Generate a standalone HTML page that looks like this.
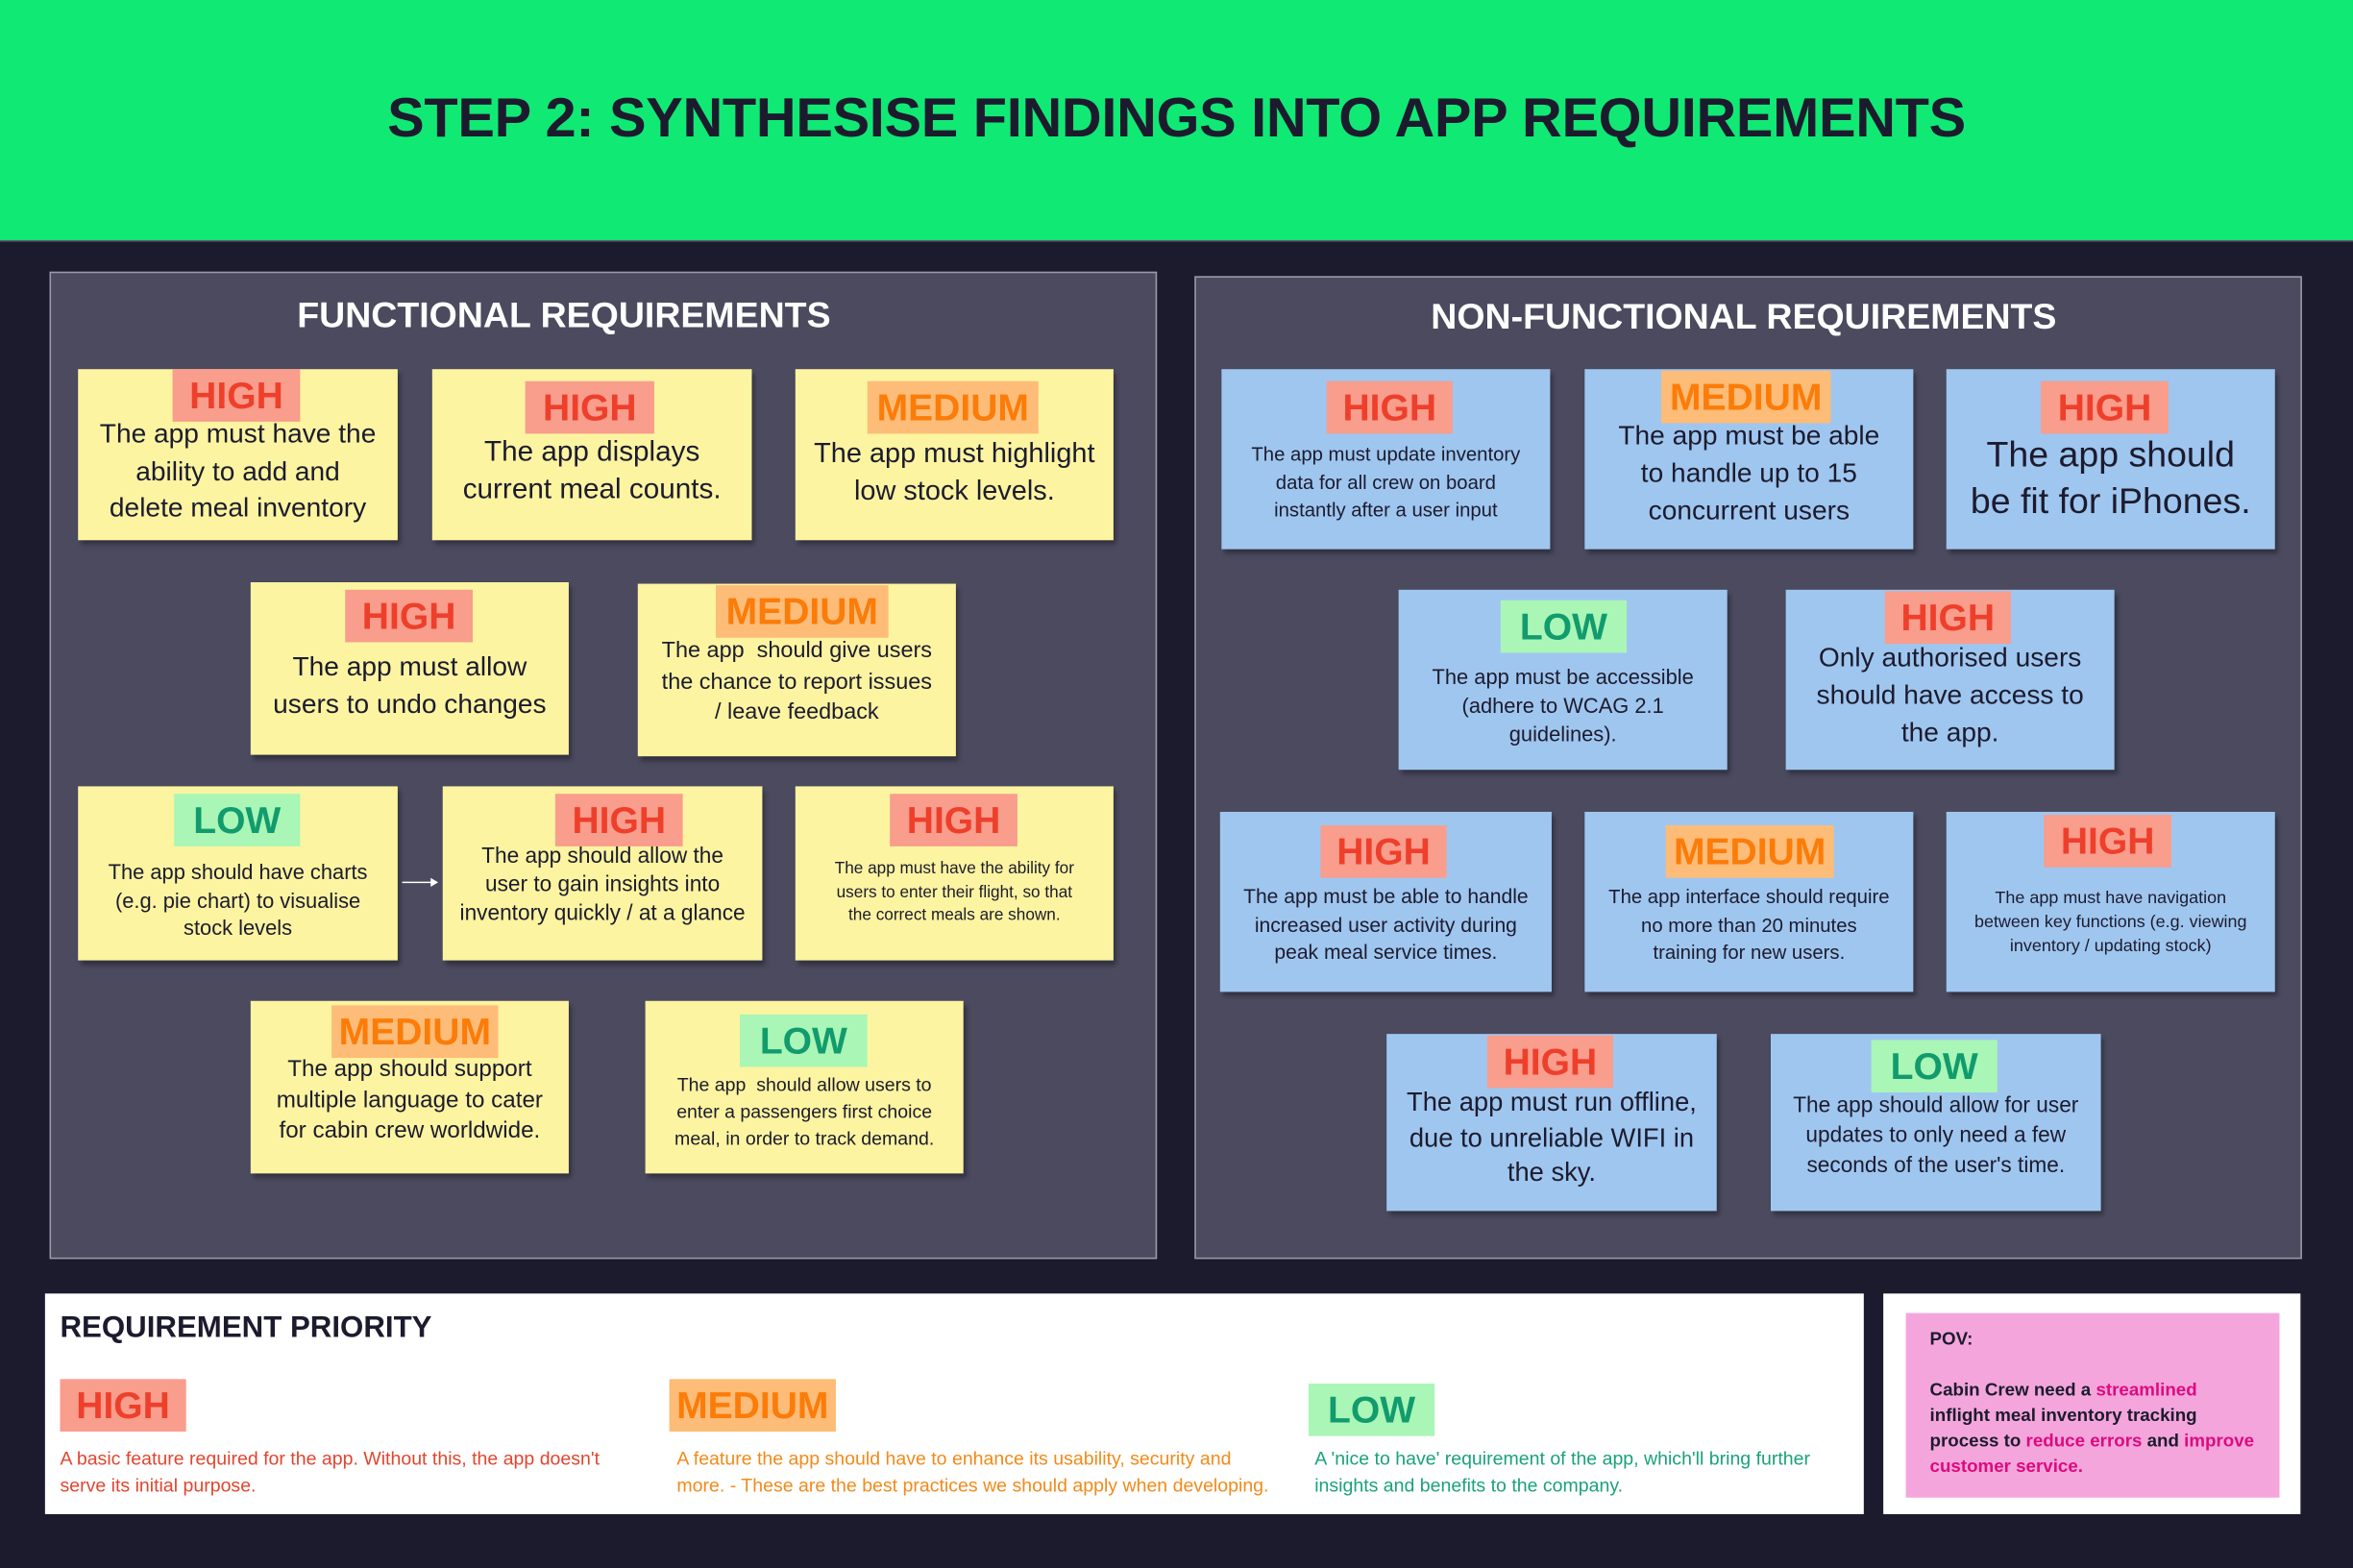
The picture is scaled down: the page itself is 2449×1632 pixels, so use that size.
<!DOCTYPE html>
<html><head><meta charset="utf-8"><style>
html,body{margin:0;padding:0;background:#1c1b2e;width:2449px;height:1632px;overflow:hidden}
#w{position:absolute;left:0;top:0;width:1568px;height:1045px;transform:scale(1.56186);transform-origin:0 0;font-family:"Liberation Sans",sans-serif;background:#1c1b2e}
.a{position:absolute}
.hd{left:0;top:0;width:1568px;height:160px;background:#11e975;border-bottom:1px solid #5a5a6a}
.hd div{position:absolute;left:0;right:0;top:58px;text-align:center;font-weight:bold;font-size:37px;color:#1c1b2e;letter-spacing:-0.2px}
.pn{background:#4b4a5f;border:1px solid #9a9aa8}
.pt{position:absolute;left:0;right:0;top:14px;text-align:center;color:#fff;font-weight:bold;font-size:24px}
.n{position:absolute;box-shadow:2px 3px 3px rgba(0,0,0,.35)}
.y{background:#fcf4a0}.b{background:#9fc6ef}
.t{position:absolute;height:35px;line-height:36px;font-weight:bold;font-size:25px;text-align:center}
.H{background:#f99d8d;color:#ee3f2b}.M{background:#fdbc78;color:#fb7c08}.L{background:#a9f6b7;color:#129b6d}
.x{position:absolute;left:0;right:0;text-align:center;color:#1c1b2e}
</style></head><body><div id="w">
<div class="a hd"><div>STEP 2: SYNTHESISE FINDINGS INTO APP REQUIREMENTS</div></div>

<div class="a pn" style="left:33px;top:181px;width:736px;height:656px"><div class="pt" style="right:auto;left:164px;top:15px">FUNCTIONAL REQUIREMENTS</div></div>
<div class="a pn" style="left:796px;top:184px;width:736px;height:653px"><div class="pt" style="left:-6px;top:13px">NON-FUNCTIONAL REQUIREMENTS</div></div>

<!-- functional -->
<div class="n y" style="left:52px;top:246px;width:213px;height:114px"><div class="t H" style="left:63px;top:0;width:85px">HIGH</div><div class="x" style="top:31px;font-size:18px;line-height:24.5px">The app must have the<br>ability to add and<br>delete meal inventory</div></div>
<div class="n y" style="left:288px;top:246px;width:213px;height:114px"><div class="t H" style="left:62px;top:8px;width:86px">HIGH</div><div class="x" style="top:43px;font-size:19px;line-height:25px">The app displays<br>current meal counts.</div></div>
<div class="n y" style="left:530px;top:246px;width:212px;height:114px"><div class="t M" style="left:48px;top:8px;width:114px">MEDIUM</div><div class="x" style="top:43px;font-size:18.5px;line-height:25px">The app must highlight<br>low stock levels.</div></div>
<div class="n y" style="left:167px;top:388px;width:212px;height:115px"><div class="t H" style="left:63px;top:5px;width:85px">HIGH</div><div class="x" style="top:44px;font-size:18px;line-height:25px">The app must allow<br>users to undo changes</div></div>
<div class="n y" style="left:425px;top:389px;width:212px;height:115px"><div class="t M" style="left:52px;top:1px;width:115px">MEDIUM</div><div class="x" style="top:35px;font-size:15px;line-height:20.5px">The app &nbsp;should give users<br>the chance to report issues<br>/ leave feedback</div></div>
<div class="n y" style="left:52px;top:524px;width:213px;height:116px"><div class="t L" style="left:64px;top:5px;width:84px">LOW</div><div class="x" style="top:48px;font-size:14px;line-height:18.5px">The app should have charts<br>(e.g. pie chart) to visualise<br>stock levels</div></div>
<div class="n y" style="left:295px;top:524px;width:213px;height:116px"><div class="t H" style="left:75px;top:5px;width:85px">HIGH</div><div class="x" style="top:38px;font-size:14.5px;line-height:19px">The app should allow the<br>user to gain insights into<br>inventory quickly / at a glance</div></div>
<div class="n y" style="left:530px;top:524px;width:212px;height:116px"><div class="t H" style="left:63px;top:5px;width:85px">HIGH</div><div class="x" style="top:48px;font-size:11px;line-height:15.5px">The app must have the ability for<br>users to enter their flight, so that<br>the correct meals are shown.</div></div>
<div class="n y" style="left:167px;top:667px;width:212px;height:115px"><div class="t M" style="left:54px;top:3px;width:111px">MEDIUM</div><div class="x" style="top:36px;font-size:15.5px;line-height:20.5px">The app should support<br>multiple language to cater<br>for cabin crew worldwide.</div></div>
<div class="n y" style="left:430px;top:667px;width:212px;height:115px"><div class="t L" style="left:63px;top:9px;width:85px">LOW</div><div class="x" style="top:47px;font-size:12.5px;line-height:18px">The app &nbsp;should allow users to<br>enter a passengers first choice<br>meal, in order to track demand.</div></div>
<svg class="a" style="left:266px;top:582px" width="28" height="12"><line x1="2" y1="6" x2="22" y2="6" stroke="#fff" stroke-width="1"/><path d="M21 3 L26 6 L21 9Z" fill="#fff"/></svg>

<!-- non-functional -->
<div class="n b" style="left:814px;top:246px;width:219px;height:120px"><div class="t H" style="left:70px;top:8px;width:84px">HIGH</div><div class="x" style="top:48px;font-size:13px;line-height:18.5px">The app must update inventory<br>data for all crew on board<br>instantly after a user input</div></div>
<div class="n b" style="left:1056px;top:246px;width:219px;height:120px"><div class="t M" style="left:51px;top:1px;width:113px">MEDIUM</div><div class="x" style="top:32px;font-size:18px;line-height:25px">The app must be able<br>to handle up to 15<br>concurrent users</div></div>
<div class="n b" style="left:1297px;top:246px;width:219px;height:120px"><div class="t H" style="left:63px;top:8px;width:85px">HIGH</div><div class="x" style="top:42px;font-size:24px;line-height:31px">The app should<br>be fit for iPhones.</div></div>
<div class="n b" style="left:932px;top:393px;width:219px;height:120px"><div class="t L" style="left:68px;top:7px;width:84px">LOW</div><div class="x" style="top:49px;font-size:14px;line-height:19px">The app must be accessible<br>(adhere to WCAG 2.1<br>guidelines).</div></div>
<div class="n b" style="left:1190px;top:393px;width:219px;height:120px"><div class="t H" style="left:66px;top:1px;width:84px">HIGH</div><div class="x" style="top:33px;font-size:18px;line-height:25px">Only authorised users<br>should have access to<br>the app.</div></div>
<div class="n b" style="left:813px;top:541px;width:221px;height:120px"><div class="t H" style="left:67px;top:9px;width:84px">HIGH</div><div class="x" style="top:48px;font-size:13.5px;line-height:18.5px">The app must be able to handle<br>increased user activity during<br>peak meal service times.</div></div>
<div class="n b" style="left:1056px;top:541px;width:219px;height:120px"><div class="t M" style="left:54px;top:9px;width:112px">MEDIUM</div><div class="x" style="top:48px;font-size:13px;line-height:18.5px">The app interface should require<br>no more than 20 minutes<br>training for new users.</div></div>
<div class="n b" style="left:1297px;top:541px;width:219px;height:120px"><div class="t H" style="left:65px;top:2px;width:85px">HIGH</div><div class="x" style="top:50px;font-size:11.5px;line-height:16px">The app must have navigation<br>between key functions (e.g. viewing<br>inventory / updating stock)</div></div>
<div class="n b" style="left:924px;top:689px;width:220px;height:118px"><div class="t H" style="left:67px;top:1px;width:84px">HIGH</div><div class="x" style="top:34px;font-size:17.5px;line-height:23.5px">The app must run offline,<br>due to unreliable WIFI in<br>the sky.</div></div>
<div class="n b" style="left:1180px;top:689px;width:220px;height:118px"><div class="t L" style="left:67px;top:4px;width:84px">LOW</div><div class="x" style="top:38px;font-size:14.5px;line-height:20px">The app should allow for user<br>updates to only need a few<br>seconds of the user's time.</div></div>

<!-- bottom -->
<div class="a" style="left:30px;top:862px;width:1212px;height:147px;background:#fff">
<div class="a" style="left:10px;top:12px;font-weight:bold;font-size:20px;color:#1c1b2e">REQUIREMENT PRIORITY</div>
<div class="t H" style="left:10px;top:57px;width:84px">HIGH</div>
<div class="t M" style="left:416px;top:57px;width:111px">MEDIUM</div>
<div class="t L" style="left:842px;top:60px;width:84px">LOW</div>
<div class="a" style="left:10px;top:101px;font-size:12.5px;line-height:18px;color:#e2452f">A basic feature required for the app. Without this, the app doesn't<br>serve its initial purpose.</div>
<div class="a" style="left:421px;top:101px;font-size:12.5px;line-height:18px;color:#f28a1a">A feature the app should have to enhance its usability, security and<br>more. - These are the best practices we should apply when developing.</div>
<div class="a" style="left:846px;top:101px;font-size:12.5px;line-height:18px;color:#1aa27a">A 'nice to have' requirement of the app, which'll bring further<br>insights and benefits to the company.</div>
</div>
<div class="a" style="left:1255px;top:862px;width:278px;height:147px;background:#fff">
<div class="a" style="left:15px;top:13px;width:249px;height:123px;background:#f4a6dc">
<div class="a" style="left:16px;top:9px;width:222px;font-weight:bold;font-size:12px;line-height:17px;color:#1c1b2e">POV:<br><br>Cabin Crew need a <span style="color:#dd0a7e">streamlined</span><br>inflight meal inventory tracking<br>process to <span style="color:#dd0a7e">reduce errors</span> and <span style="color:#dd0a7e">improve</span><br><span style="color:#dd0a7e">customer service.</span></div>
</div></div>
</div></body></html>
